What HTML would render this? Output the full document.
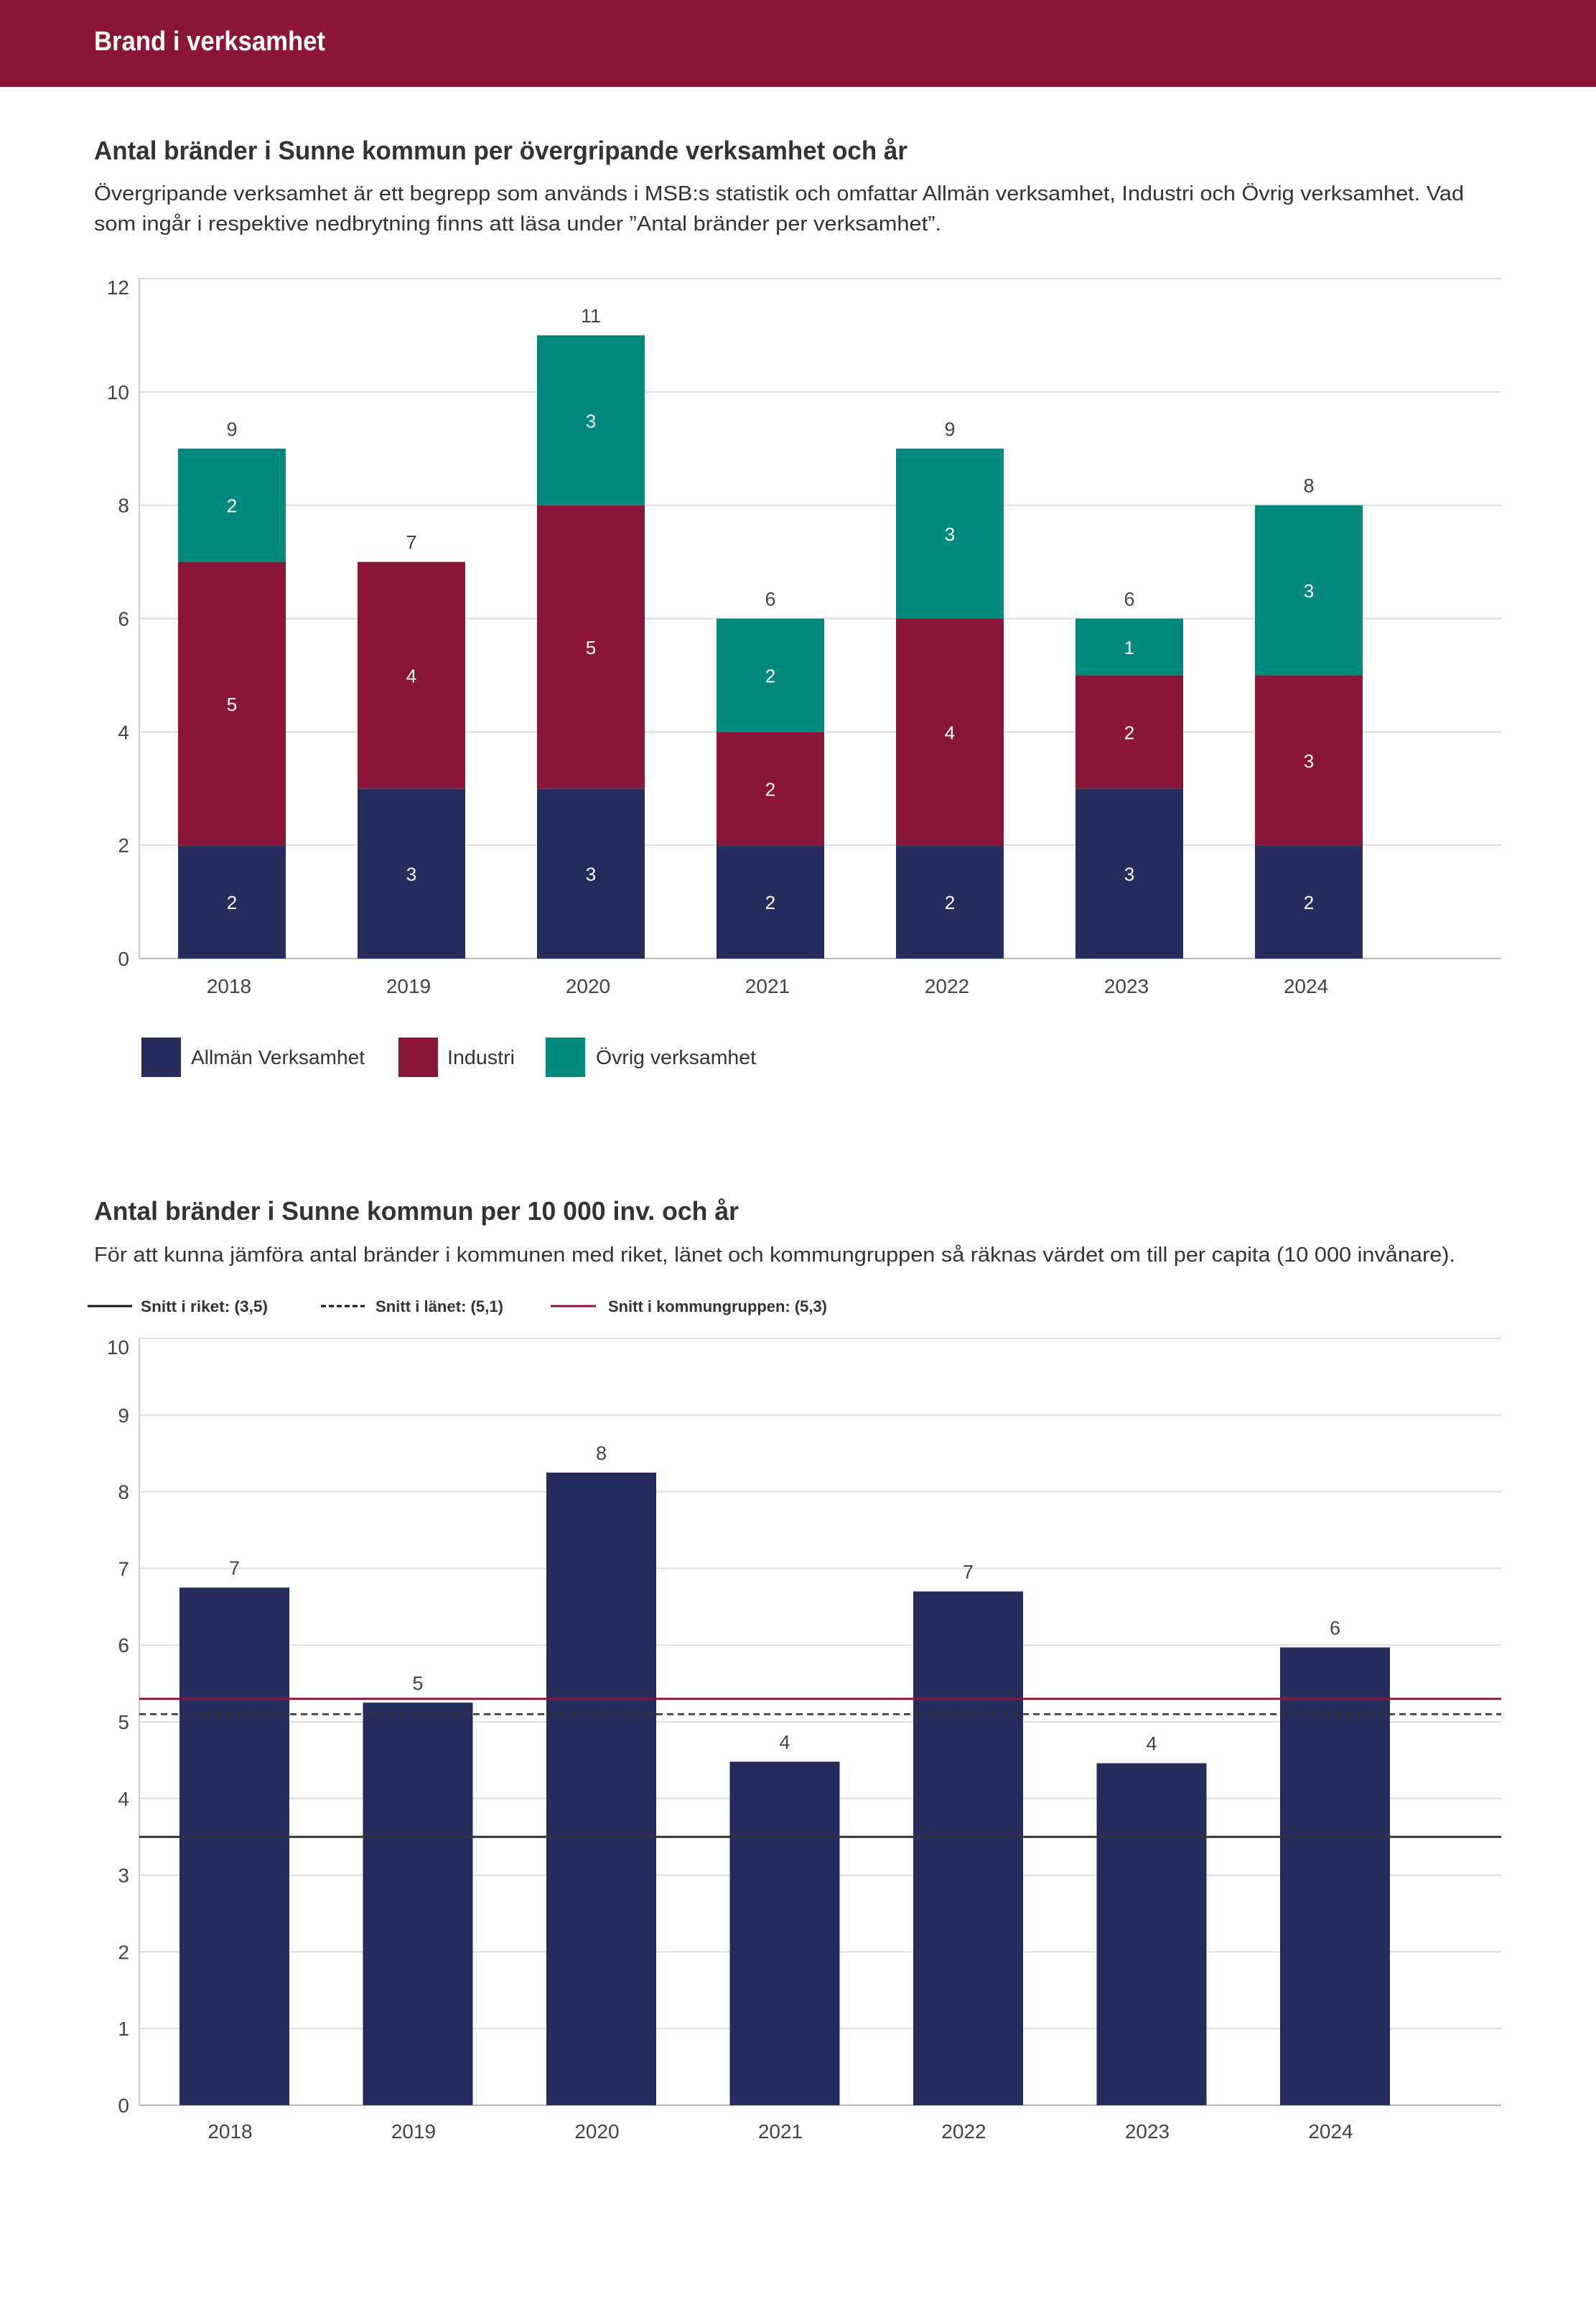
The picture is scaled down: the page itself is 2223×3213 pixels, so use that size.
<!DOCTYPE html>
<html><head><meta charset="utf-8"><style>
html,body{margin:0;padding:0;background:#fff}
svg{display:block}
text{font-family:"Liberation Sans",sans-serif}
</style></head><body>
<svg id="page" width="2223" height="3213" viewBox="0 0 2223 3213" xmlns="http://www.w3.org/2000/svg">
<rect x="0" y="0" width="2223" height="121" fill="#8b1538"/>
<text x="131" y="70" font-size="38" font-weight="bold" fill="#fff" textLength="322" lengthAdjust="spacingAndGlyphs">Brand i verksamhet</text>

<text x="131" y="222" font-size="36" font-weight="bold" fill="#333" textLength="1133" lengthAdjust="spacingAndGlyphs">Antal bränder i Sunne kommun per övergripande verksamhet och år</text>
<text x="131" y="279" font-size="29" fill="#333" textLength="1908" lengthAdjust="spacingAndGlyphs">Övergripande verksamhet är ett begrepp som används i MSB:s statistik och omfattar Allmän verksamhet, Industri och Övrig verksamhet. Vad</text>
<text x="131" y="321" font-size="29" fill="#333" textLength="1180" lengthAdjust="spacingAndGlyphs">som ingår i respektive nedbrytning finns att läsa under ”Antal bränder per verksamhet”.</text>
<g id="chart1"></g>

<g>
<rect x="197" y="1445" width="55" height="55" fill="#262c5c"/>
<text x="266" y="1482" font-size="28" fill="#333" textLength="242" lengthAdjust="spacingAndGlyphs">Allmän Verksamhet</text>
<rect x="555" y="1445" width="55" height="55" fill="#8b1538"/>
<text x="623" y="1482" font-size="28" fill="#333" textLength="94" lengthAdjust="spacingAndGlyphs">Industri</text>
<rect x="760" y="1445" width="55" height="55" fill="#00897d"/>
<text x="830" y="1482" font-size="28" fill="#333" textLength="223" lengthAdjust="spacingAndGlyphs">Övrig verksamhet</text>
</g>

<text x="131" y="1699" font-size="36" font-weight="bold" fill="#333" textLength="898" lengthAdjust="spacingAndGlyphs">Antal bränder i Sunne kommun per 10 000 inv. och år</text>
<text x="131" y="1757" font-size="29" fill="#333" textLength="1896" lengthAdjust="spacingAndGlyphs">För att kunna jämföra antal bränder i kommunen med riket, länet och kommungruppen så räknas värdet om till per capita (10 000 invånare).</text>
<g>
<line x1="122" y1="1819" x2="184" y2="1819" stroke="#111" stroke-width="3"/>
<text x="196" y="1827" font-size="22" font-weight="bold" fill="#333" textLength="177" lengthAdjust="spacingAndGlyphs">Snitt i riket: (3,5)</text>
<line x1="447" y1="1819" x2="508" y2="1819" stroke="#111" stroke-width="3" stroke-dasharray="7,4"/>
<text x="523" y="1827" font-size="22" font-weight="bold" fill="#333" textLength="178" lengthAdjust="spacingAndGlyphs">Snitt i länet: (5,1)</text>
<line x1="767" y1="1819" x2="830" y2="1819" stroke="#8b1538" stroke-width="3"/>
<text x="847" y="1827" font-size="22" font-weight="bold" fill="#333" textLength="305" lengthAdjust="spacingAndGlyphs">Snitt i kommungruppen: (5,3)</text>
</g>
<g id="chart2"></g>
</svg>
<script>
const years = ["2018","2019","2020","2021","2022","2023","2024"];
const allman = [2,3,3,2,2,3,2];
const industri = [5,4,5,2,4,2,3];
const ovrig = [2,0,3,2,3,1,3];
const ticks1 = [0,2,4,6,8,10,12];
const perCapita = [6.75,5.25,8.25,4.48,6.7,4.46,5.97];
const perCapitaLabels = ["7","5","8","4","7","4","6"];
const ticks2 = [0,1,2,3,4,5,6,7,8,9,10];
const avgRiket = [3.5];
const avgLanet = [5.1];
const avgKommungrupp = [5.3];

const NS="http://www.w3.org/2000/svg";
function mk(parent,tag,attrs,txt){const e=document.createElementNS(NS,tag);for(const k in attrs)e.setAttribute(k,attrs[k]);if(txt!==undefined)e.textContent=txt;parent.appendChild(e);return e;}

// chart 1
(function(){
const g=document.getElementById('chart1');
const L=194,R=2091,T=388,B=1335,max=12;
const y=v=>B-(v/max)*(B-T);
const step=250,c0=323,bw=150;
const x=i=>c0+i*step;
ticks1.forEach(t=>{
 const ln=mk(g,'line',{x1:L,x2:R,y1:y(t),y2:y(t),stroke:t===0?'#bbb':'#ddd','stroke-width':2});
 
 
 const tx=mk(g,'text',{x:L-14,y:y(t)+(t===12?22:10),'font-size':28,fill:'#444','text-anchor':'end'},String(t));
 
 
});
const ax=mk(g,'line',{x1:L,x2:L,y1:T,y2:B,stroke:'#ccc','stroke-width':2});


const series=[[allman,'#262c5c','allman'],[industri,'#8b1538','industri'],[ovrig,'#00897d','ovrig']];
years.forEach((yr,i)=>{
 let base=0;
 series.forEach(([arr,col,nm])=>{
  const v=arr[i]; if(!v) return;
  const r=mk(g,'rect',{x:x(i)-bw/2,y:y(base+v),width:bw,height:y(base)-y(base+v),fill:col});
  
  
  const t=mk(g,'text',{x:x(i),y:(y(base)+y(base+v))/2+10,'font-size':26,fill:'#fff','text-anchor':'middle'},String(v));
  
  
  base+=v;
 });
 const tt=mk(g,'text',{x:x(i),y:y(base)-18,'font-size':27,fill:'#444','text-anchor':'middle'},String(base));
 
 
 const xl=mk(g,'text',{x:x(i)-4,y:1383,'font-size':28,fill:'#444','text-anchor':'middle'},yr);
 
 
});
})();

// chart 2
(function(){
const g=document.getElementById('chart2');
const L=194,R=2091,T=1864,B=2932,max=10;
const y=v=>B-(v/max)*(B-T);
const step=255.5,c0=326.5,bw=153;
const x=i=>c0+i*step;
ticks2.forEach(t=>{
 const ln=mk(g,'line',{x1:L,x2:R,y1:y(t),y2:y(t),stroke:t===0?'#bbb':'#ddd','stroke-width':2});
 
 
 const tx=mk(g,'text',{x:L-14,y:y(t)+(t===10?22:10),'font-size':28,fill:'#444','text-anchor':'end'},String(t));
 
 
});
const ax=mk(g,'line',{x1:L,x2:L,y1:T,y2:B,stroke:'#ccc','stroke-width':2});


years.forEach((yr,i)=>{
 const v=perCapita[i];
 const r=mk(g,'rect',{x:x(i)-bw/2,y:y(v),width:bw,height:B-y(v),fill:'#262c5c'});
 
 
 const t=mk(g,'text',{x:x(i),y:y(v)-18,'font-size':27,fill:'#444','text-anchor':'middle'},perCapitaLabels[i]);
 
 
 const xl=mk(g,'text',{x:x(i)-6,y:2978,'font-size':28,fill:'#444','text-anchor':'middle'},yr);
 
 
});
const l1=mk(g,'line',{x1:L,x2:R,y1:y(avgRiket[0]),y2:y(avgRiket[0]),stroke:'#333','stroke-width':3});


const l2=mk(g,'line',{x1:L,x2:R,y1:y(avgLanet[0]),y2:y(avgLanet[0]),stroke:'#333','stroke-width':2.5,'stroke-dasharray':'9,6'});


const l3=mk(g,'line',{x1:L,x2:R,y1:y(avgKommungrupp[0]),y2:y(avgKommungrupp[0]),stroke:'#8b1538','stroke-width':3});


})();
</script>
</body></html>
